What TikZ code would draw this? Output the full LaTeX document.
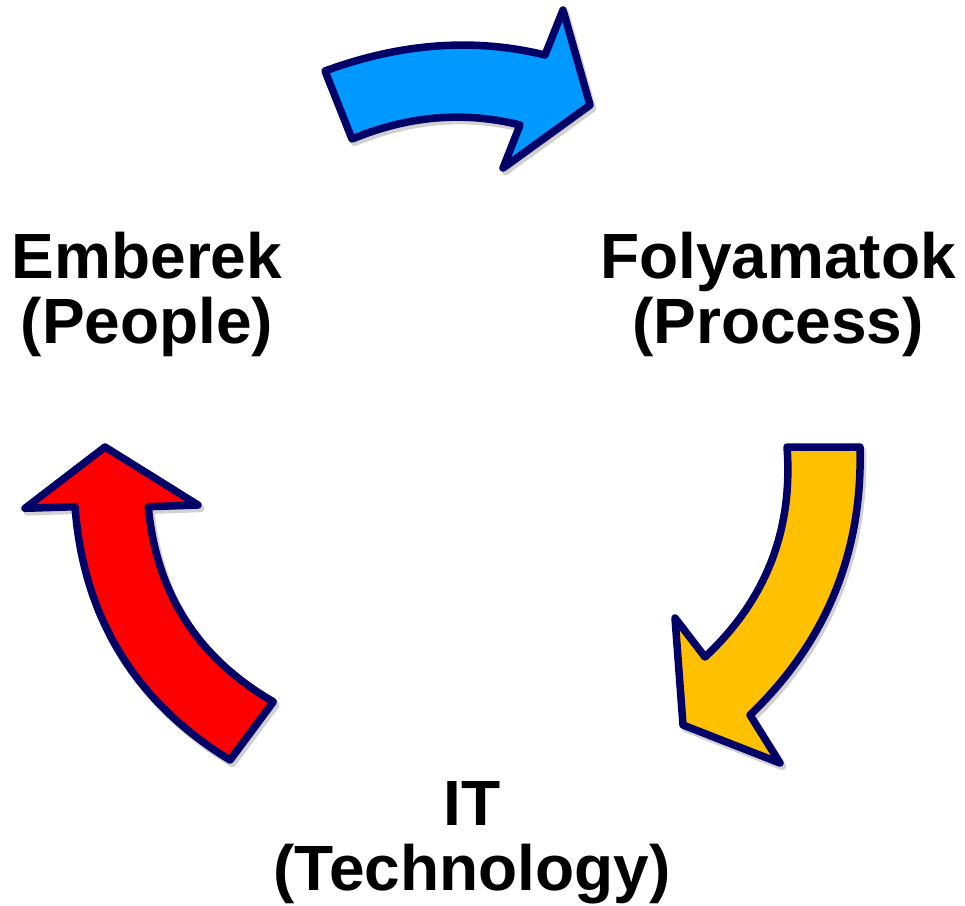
\documentclass[tikz,border=0pt]{standalone}
\usepackage{fontspec}
\setmainfont{Liberation Sans}
\definecolor{outl}{RGB}{0,0,102}
\definecolor{ablue}{RGB}{0,153,255}
\definecolor{ayellow}{RGB}{255,192,0}
\definecolor{ared}{RGB}{255,0,0}
\tikzset{
  arrowshape/.style={draw=outl, line width=7.5pt, line join=round},
  shadowshape/.style={fill=black, opacity=0.18, draw=black, draw opacity=0.18, line width=7.5pt, line join=round},
  lbl/.style={font=\fontsize{64}{65}\selectfont\bfseries, align=center, inner sep=0pt, anchor=base}
}
\begin{document}
\begin{tikzpicture}[x=1pt,y=-1pt]
\path[use as bounding box] (0,0) rectangle (965,905);
% paths
\def\bluepath{(325,71) .. controls (401,43) and (474.3,37.7) .. (545,55) -- (563,10) -- (590,105) -- (503,168) -- (520,125) .. controls (464,111) and (408,115.7) .. (352,139) -- cycle}
\def\yellowpath{(787,447) -- (860,447) .. controls (862.8,552.6) and (826.1,641.9) .. (750,715) -- (780,763) -- (683,725) -- (675,618) -- (705,657) .. controls (765.9,600.1) and (793.2,530.1) .. (787,447) -- cycle}
\def\redpath{(105,447) -- (198,505) -- (148.3,506.7) .. controls (156.2,593.3) and (197.9,658.3) .. (273.3,701.7) -- (230,760) .. controls (135.1,702) and (83.5,617.6) .. (75,506.7) -- (25,508.3) -- cycle}
\begin{scope}[shift={(2.5,3.5)}]
  \path[shadowshape] \bluepath;
  \path[shadowshape] \yellowpath;
  \path[shadowshape] \redpath;
\end{scope}
\path[arrowshape, fill=ablue] \bluepath;
\path[arrowshape, fill=ayellow] \yellowpath;
\path[arrowshape, fill=ared] \redpath;
% labels (base anchor = baseline of the last line)
\node[lbl] (people) at (147,343) {Emberek\\(People)};
\node[lbl] (process) at (778,343) {Folyamatok\\(Process)};
\node[lbl] (tech) at (472,890) {IT\\(Technology)};
\end{tikzpicture}
\end{document}
